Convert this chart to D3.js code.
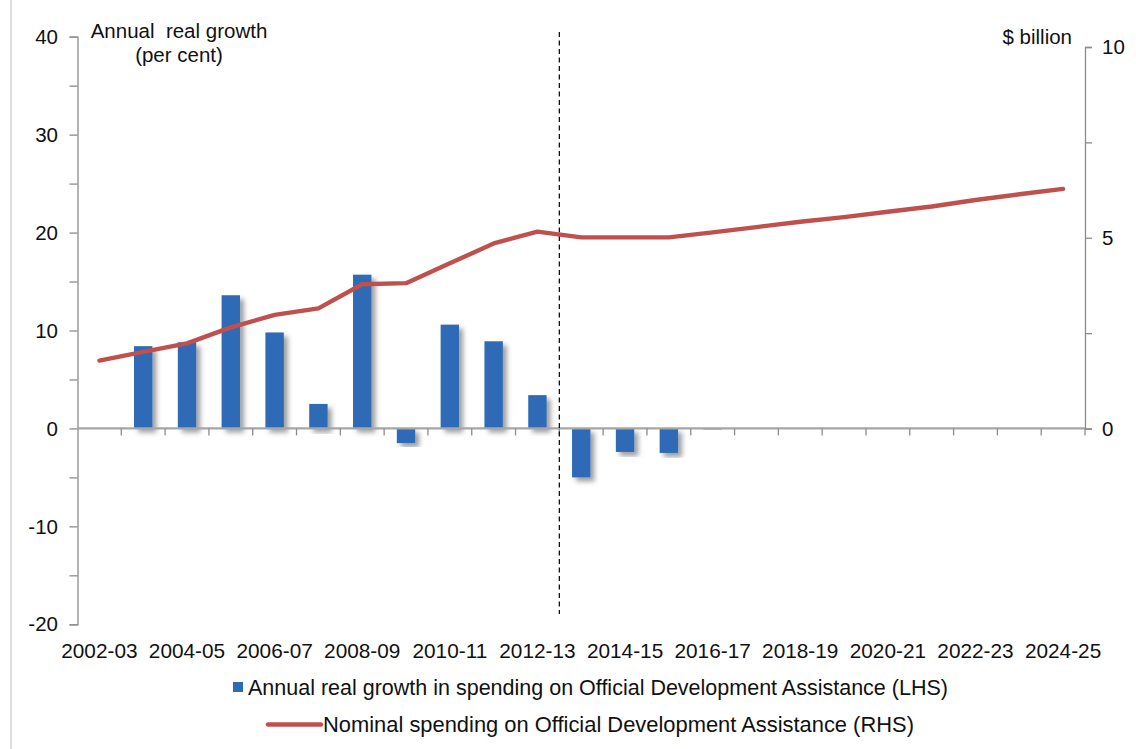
<!DOCTYPE html>
<html>
<head>
<meta charset="utf-8">
<script src="https://cdn.jsdelivr.net/npm/d3@7"></script>
<style>
  html, body { margin: 0; padding: 0; background: #fff; }
  svg text { font-family: "Liberation Sans", Arial, sans-serif; fill: #111; }
</style>
</head>
<body>
<svg id="chart" width="1136" height="749"></svg>
<script>
// Financial years shown on the category axis
const years = [
  "2002-03", "2003-04", "2004-05", "2005-06", "2006-07", "2007-08",
  "2008-09", "2009-10", "2010-11", "2011-12", "2012-13", "2013-14",
  "2014-15", "2015-16", "2016-17", "2017-18", "2018-19", "2019-20",
  "2020-21", "2021-22", "2022-23", "2023-24", "2024-25"
];

// Annual real growth in ODA spending, per cent (LHS)
const realGrowth = [
  null, 8.4, 8.8, 13.6, 9.8, 2.5,
  15.7, -1.5, 10.6, 8.9, 3.4, -5.0,
  -2.4, -2.5, -0.1, null, null, null,
  null, null, null, null, null
];

// Nominal ODA spending, $ billion (RHS)
const nominalSpend = [
  1.78, 2.01, 2.23, 2.65, 2.98, 3.15,
  3.78, 3.81, 4.33, 4.85, 5.16, 5.01,
  5.01, 5.01, 5.14, 5.28, 5.42, 5.54,
  5.68, 5.82, 5.99, 6.14, 6.28
];

const leftTicks = [-20, -10, 0, 10, 20, 30, 40];
const leftMinorTicks = [-20, -15, -10, -5, 0, 5, 10, 15, 20, 25, 30, 35, 40];
const rightTicks = [0, 5, 10];
const rightMinorTicks = [0, 2.5, 5, 7.5, 10];
const labelledYears = years.filter((d, i) => i % 2 === 0);

const barLegend = "Annual real growth in spending on Official Development Assistance (LHS)";
const lineLegend = "Nominal spending on Official Development Assistance (RHS)";

const svg = d3.select("#chart");
const FONT = 20.5;
const axisColour = "#8c8c8c";
const barColour = "#2e6bb5";
const lineColour = "#c0504d";

// Scales
const x = d3.scaleBand().domain(years).range([77.5, 1085]).padding(0);
const yL = d3.scaleLinear().domain([-20, 40]).range([624.3, 36.7]);
const yR = d3.scaleLinear().domain([0, 10]).range([428.5, 47]);

// Outer frame edge on the left
svg.append("line")
  .attr("x1", 11).attr("x2", 11).attr("y1", 0).attr("y2", 749)
  .attr("stroke", "#c8c8c8").attr("stroke-width", 1.2);

// Drop shadow for the columns
const defs = svg.append("defs");
const f = defs.append("filter").attr("id", "shadow")
  .attr("x", "-50%").attr("y", "-20%").attr("width", "200%").attr("height", "140%");
f.append("feDropShadow")
  .attr("dx", 4).attr("dy", 4).attr("stdDeviation", 2.6)
  .attr("flood-color", "#000").attr("flood-opacity", 0.38);

// Columns
const barW = x.bandwidth() * 0.42;
svg.append("g").selectAll("rect")
  .data(years.map((d, i) => ({ year: d, v: realGrowth[i] })).filter(d => d.v !== null))
  .join("rect")
  .attr("x", d => x(d.year) + x.bandwidth() / 2 - barW / 2)
  .attr("width", barW)
  .attr("y", d => yL(Math.max(0, d.v)))
  .attr("height", d => Math.abs(yL(d.v) - yL(0)))
  .attr("fill", barColour)
  .attr("filter", "url(#shadow)");

// Left axis
const leftAxis = svg.append("g").attr("transform", `translate(${x.range()[0]},0)`)
  .call(d3.axisLeft(yL).tickValues(leftMinorTicks).tickSize(8).tickFormat(""));
leftAxis.select(".domain").attr("stroke", axisColour).attr("stroke-width", 1.3);
leftAxis.selectAll(".tick line").attr("stroke", axisColour).attr("stroke-width", 1.3);
svg.append("g").selectAll("text").data(leftTicks).join("text")
  .attr("x", 58).attr("y", d => yL(d)).attr("dy", "0.35em")
  .attr("text-anchor", "end").attr("font-size", FONT)
  .text(d => d);

// Right axis
const rightAxis = svg.append("g").attr("transform", `translate(${x.range()[1]},0)`)
  .call(d3.axisRight(yR).tickValues(rightMinorTicks).tickSize(7).tickFormat(""));
rightAxis.select(".domain").attr("stroke", axisColour).attr("stroke-width", 1.3);
rightAxis.selectAll(".tick line").attr("stroke", axisColour).attr("stroke-width", 1.3);
svg.append("g").selectAll("text").data(rightTicks).join("text")
  .attr("x", 1102).attr("y", d => yR(d)).attr("dy", "0.35em")
  .attr("text-anchor", "start").attr("font-size", FONT)
  .text(d => d);

// Category axis at zero
const xAxis = svg.append("g").attr("transform", `translate(0,${yL(0)})`);
xAxis.append("line")
  .attr("x1", x.range()[0]).attr("x2", x.range()[1])
  .attr("stroke", "#a6a6a6").attr("stroke-width", 2.2);
xAxis.selectAll("line.tick").data(years.slice(1).concat(["end"])).join("line")
  .attr("class", "tick")
  .attr("x1", (d, i) => x.range()[0] + x.step() * (i + 1))
  .attr("x2", (d, i) => x.range()[0] + x.step() * (i + 1))
  .attr("y1", 0).attr("y2", 7)
  .attr("stroke", axisColour).attr("stroke-width", 1.3);

// Category labels below the plot
svg.append("g").selectAll("text").data(labelledYears).join("text")
  .attr("x", d => x(d) + x.bandwidth() / 2)
  .attr("y", 658)
  .attr("text-anchor", "middle").attr("font-size", 20.8)
  .text(d => d);

// Budget-year divider
svg.append("line")
  .attr("x1", x.range()[0] + x.step() * 11).attr("x2", x.range()[0] + x.step() * 11)
  .attr("y1", 32).attr("y2", 614)
  .attr("stroke", "#111").attr("stroke-width", 1.3)
  .attr("stroke-dasharray", "5,3.5");

// Nominal spending line
const line = d3.line()
  .x((d, i) => x(years[i]) + x.bandwidth() / 2)
  .y(d => yR(d));
svg.append("path")
  .datum(nominalSpend)
  .attr("d", line)
  .attr("fill", "none")
  .attr("stroke", lineColour)
  .attr("stroke-width", 4.4)
  .attr("stroke-linejoin", "round")
  .attr("stroke-linecap", "round");

// Axis titles
svg.append("text").attr("x", 179).attr("y", 38).attr("text-anchor", "middle")
  .attr("font-size", FONT).attr("xml:space", "preserve").text("Annual  real growth");
svg.append("text").attr("x", 179).attr("y", 62).attr("text-anchor", "middle")
  .attr("font-size", FONT).text("(per cent)");
svg.append("text").attr("x", 1072).attr("y", 44).attr("text-anchor", "end")
  .attr("font-size", FONT).text("$ billion");

// Legend
const lg = svg.append("g");
lg.append("rect").attr("x", 233).attr("y", 682).attr("width", 10).attr("height", 10)
  .attr("fill", barColour);
lg.append("text").attr("x", 248).attr("y", 695).attr("font-size", 21.5).text(barLegend);
lg.append("line").attr("x1", 268).attr("x2", 321).attr("y1", 724.5).attr("y2", 724.5)
  .attr("stroke", lineColour).attr("stroke-width", 4.4).attr("stroke-linecap", "round");
lg.append("text").attr("x", 323).attr("y", 732).attr("font-size", 21.9).text(lineLegend);
</script>
</body>
</html>
